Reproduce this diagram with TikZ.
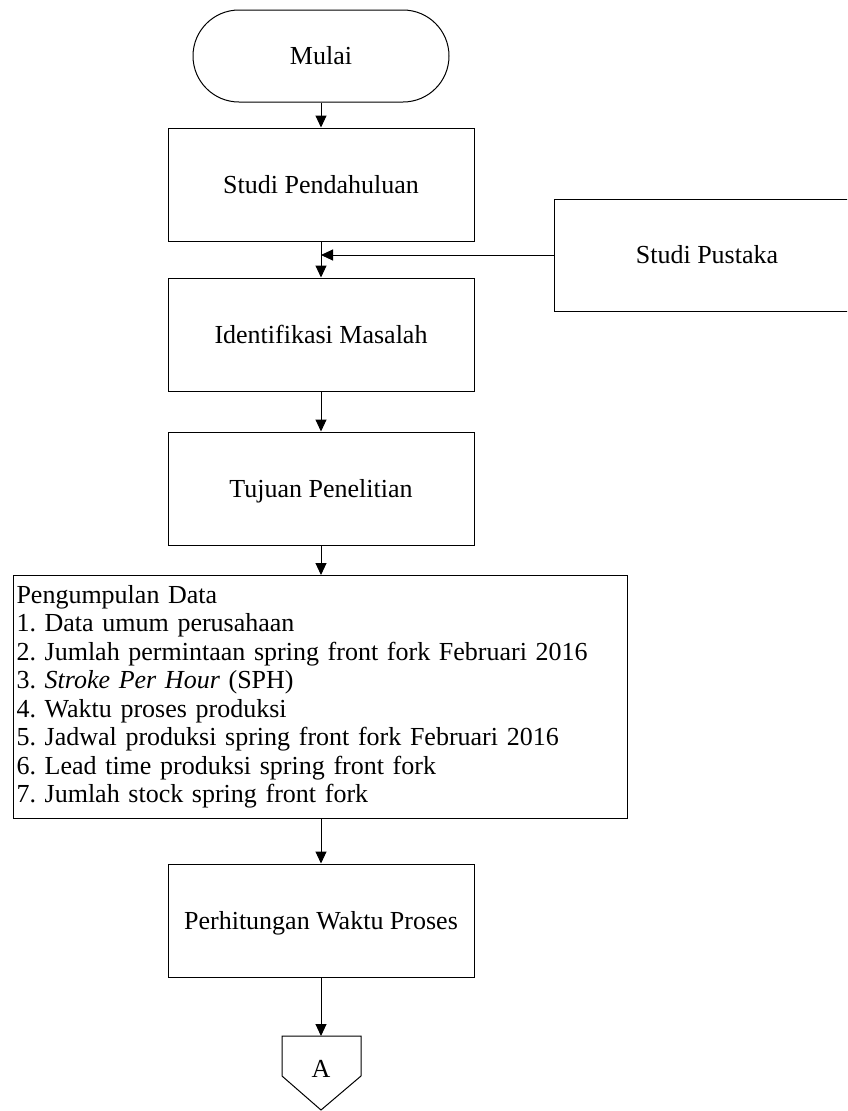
\documentclass[tikz,border=0pt]{standalone}
\usepackage{fontspec}
\setmainfont{Liberation Serif}
\usetikzlibrary{arrows.meta}
\frenchspacing
\begin{document}
\begin{tikzpicture}[x=1pt,y=-1pt,
  every node/.style={font=\fontsize{26}{28.5}\selectfont},
  outline/.style={draw=black, line width=1pt},
  oneline/.style={text height=17pt, text depth=0pt, inner sep=0pt},
  procbox/.style={outline, oneline, rectangle, minimum width=306pt, minimum height=113pt},
  arr/.style={line width=1pt, -{Triangle[length=12pt,width=11pt]}},
]
\useasboundingbox (0,0) rectangle (847,1111);
\clip (0,0) rectangle (847,1111);

% terminal
\node[outline, oneline, rounded corners=46pt, minimum width=256pt, minimum height=92pt]
  (mulai) at (321,56) {Mulai};

% process steps
\node[procbox] (sp) at (321,184.5) {Studi Pendahuluan};
\node[procbox] (im) at (321,334.5) {Identifikasi Masalah};
\node[procbox] (tp) at (321,488.5) {Tujuan Penelitian};
\node[outline, oneline, rectangle, minimum width=306pt, minimum height=112pt]
  (spk) at (707,255) {Studi Pustaka};

% data collection
\node[outline, rectangle, anchor=north west, minimum width=614pt, minimum height=243pt,
  text width=608pt, inner sep=3pt, align=left] (pd) at (13,575) {%
  Pengumpulan Data\\
  1. Data umum perusahaan\\
  2. Jumlah permintaan spring front fork Februari 2016\\
  3. \textit{Stroke Per Hour} (SPH)\\
  4. Waktu proses produksi\\
  5. Jadwal produksi spring front fork Februari 2016\\
  6. Lead time produksi spring front fork\\
  7. Jumlah stock spring front fork};

\node[procbox] (ph) at (321,920.5) {Perhitungan Waktu Proses};

% off-page connector
\coordinate (atop) at (321,1036);
\draw[outline] (282,1036) -- (361,1036) -- (361,1076) -- (321,1110) -- (282,1076) -- cycle;
\node[oneline] (conA) at (321,1068.5) {A};

% flow lines
\draw[arr] (mulai) -- (sp);
\draw[arr] (sp) -- (im);
\draw[arr] (spk.west) -- (spk.west -| sp.south);
\draw[arr] (im) -- (tp);
\draw[arr] (tp.south) -- (tp.south |- pd.north);
\draw[arr] (ph.north |- pd.south) -- (ph.north);
\draw[arr] (ph.south) -- (atop);
\end{tikzpicture}
\end{document}
